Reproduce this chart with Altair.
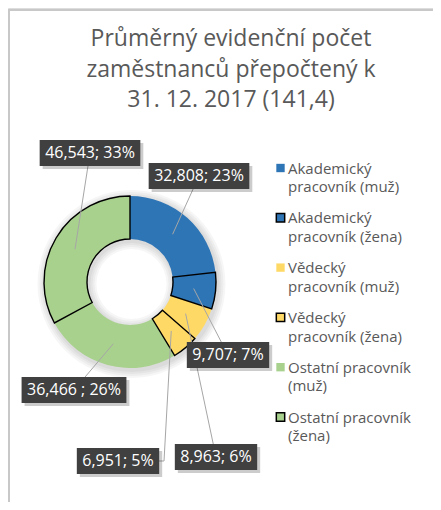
import math
import altair as alt
import pandas as pd

# ---------------- data ----------------
categories = [
    "Akademický pracovník (muž)",
    "Akademický pracovník (žena)",
    "Vědecký pracovník (muž)",
    "Vědecký pracovník (žena)",
    "Ostatní pracovník (muž)",
    "Ostatní pracovník (žena)",
]
values = [32.808, 9.707, 8.963, 6.951, 36.466, 46.543]
value_labels = ["32,808; 23%", "9,707; 7%", "8,963; 6%", "6,951; 5%", "36,466 ; 26%", "46,543; 33%"]
title_lines = ["Průměrný evidenční počet", "zaměstnanců přepočtený k", "31. 12. 2017 (141,4)"]

# ---------------- styles ----------------
colors = ["#2E75B6", "#2E75B6", "#FFD966", "#FFD966", "#A9D18E", "#A9D18E"]
TEXT_GREY = "#595959"
FONT = "Open Sans"

# ---------------- layout (px) ----------------
W, H = 425, 494
CX, CY = 122.0, 274.0          # donut centre inside the plot
R_OUT, R_IN = 86.0, 43.0
R_ANCHOR = 64.0                # where leader lines start
# manually dragged data labels (offset of label centre from donut centre, px, y down)
label_offsets = [(69, -106), (98, 73), (86, 175), (-12, 179), (-56, 108), (-40, -129)]
# leader-line elbows (None = straight line)
leader_elbows = [None, None, None, (34, 179), None, None]
BOX_H = 26.0
LEG_SYM_DX, LEG_TXT_DX = 150.5, 158.0
LEG_Y0, LEG_STEP = -114.0, 49.8
LEG_WRAP_PX = 125.0

# approximate Open Sans advance widths (em)
EM = {"A": .633, "O": .779, "V": .6, "a": .556, "c": .479, "d": .613, "e": .561, "i": .258, "í": .258,
      "k": .524, "m": .929, "n": .613, "o": .601, "p": .613, "r": .408, "s": .479, "t": .352, "u": .613,
      "v": .5, "y": .5, "ý": .5, "ž": .469, "ě": .561, "(": .296, ")": .296, " ": .26,
      ",": .244, ";": .266, "%": .83}


def text_width(s, size):
    return sum(EM.get(ch, 0.572) for ch in s) * size


def wrap_px(s, max_px, size):
    lines, cur = [], ""
    for word in s.split(" "):
        cand = (cur + " " + word).strip()
        if cur and text_width(cand, size) > max_px:
            lines.append(cur)
            cur = word
        else:
            cur = cand
    lines.append(cur)
    return "\n".join(lines)


zena = [c for c in categories if "žena" in c]
df = pd.DataFrame({
    "kategorie": categories,
    "hodnota": values,
    "poradi": list(range(len(categories))),
    "popisek": value_labels,
    "legenda": [wrap_px(c, LEG_WRAP_PX, 15) for c in categories],
    "bw": [text_width(t, 16) + 11 for t in value_labels],
    "lx": [dx / R_OUT for dx, dy in label_offsets],
    "ly": [-dy / R_OUT for dx, dy in label_offsets],
    "elx": [e[0] / R_OUT if e else None for e in leader_elbows],
    "ely": [-e[1] / R_OUT if e else None for e in leader_elbows],
})

xs = alt.Scale(domain=[-CX / R_OUT, (W - CX) / R_OUT], nice=False, zero=False)
ys = alt.Scale(domain=[-(H - CY) / R_OUT, CY / R_OUT], nice=False, zero=False)


def X(f):
    return alt.X(f, type="quantitative", scale=xs, axis=None)


def Y(f):
    return alt.Y(f, type="quantitative", scale=ys, axis=None)


zena_pred = alt.FieldOneOfPredicate(field="kategorie", oneOf=zena)
color_enc = alt.Color("kategorie:N", scale=alt.Scale(domain=categories, range=colors), legend=None)

base = alt.Chart(df)
one = alt.Chart(pd.DataFrame({"f": [0]}))

# chart frame (top and left edge visible)
frame_top = one.mark_rule(color="#C8C8C8", strokeWidth=2).encode(
    x=alt.value(0), x2=alt.value(W), y=alt.value(2))
frame_left = one.mark_rule(color="#C8C8C8", strokeWidth=2).encode(
    x=alt.value(1), y=alt.value(2), y2=alt.value(H))

centre_x = alt.XDatum(0, type="quantitative", scale=xs, axis=None)
centre_y = alt.YDatum(0, type="quantitative", scale=ys, axis=None)

# soft shadow round the ring
glow = [
    one.mark_arc(theta=0, theta2=2 * math.pi, radius=R_OUT + 2 * k, radius2=max(R_IN - 2 * k, 0),
                 color="black", opacity=0.035).encode(
        x=alt.XDatum(1.5 / R_OUT, type="quantitative", scale=xs, axis=None),
        y=alt.YDatum(-2 / R_OUT, type="quantitative", scale=ys, axis=None))
    for k in range(1, 5)
]

donut = base.mark_arc(radius=R_OUT, radius2=R_IN).encode(
    theta=alt.Theta("hodnota:Q", stack=True), color=color_enc, order=alt.Order("poradi:Q"),
    x=centre_x, y=centre_y)

outlines = base.mark_arc(radius=R_OUT, radius2=R_IN, fillOpacity=0, stroke="black", strokeWidth=1.4).encode(
    theta=alt.Theta("hodnota:Q", stack=True), order=alt.Order("poradi:Q"), detail="kategorie:N",
    strokeOpacity=alt.condition(zena_pred, alt.value(1), alt.value(0)),
    x=centre_x, y=centre_y)

anchors = (
    base.transform_window(cum="sum(hodnota)", sort=[alt.SortField("poradi")])
    .transform_joinaggregate(total="sum(hodnota)")
    .transform_calculate(mid="2*PI*(datum.cum - datum.hodnota/2)/datum.total")
    .transform_calculate(ax=f"{R_ANCHOR / R_OUT}*sin(datum.mid)", ay=f"{R_ANCHOR / R_OUT}*cos(datum.mid)")
    .transform_calculate(ex="isValid(datum.elx) && isFinite(datum.elx) ? datum.elx : datum.ax",
                         ey="isValid(datum.ely) && isFinite(datum.ely) ? datum.ely : datum.ay")
)
leaders1 = anchors.mark_rule(color="#A6A6A6", strokeWidth=1).encode(
    x=X("ax"), y=Y("ay"), x2="ex:Q", y2="ey:Q")
leaders2 = anchors.mark_rule(color="#A6A6A6", strokeWidth=1).encode(
    x=X("ex"), y=Y("ey"), x2="lx:Q", y2="ly:Q")

boxes_base = base.transform_calculate(
    bx0=f"datum.lx - datum.bw/{2 * R_OUT}", bx1=f"datum.lx + datum.bw/{2 * R_OUT}",
    by0=f"datum.ly - {BOX_H / 2 / R_OUT}", by1=f"datum.ly + {BOX_H / 2 / R_OUT}")
box_shadow = boxes_base.transform_calculate(
    sx0=f"datum.bx0 + {3 / R_OUT}", sx1=f"datum.bx1 + {3 / R_OUT}",
    sy0=f"datum.by0 - {3 / R_OUT}", sy1=f"datum.by1 - {3 / R_OUT}",
).mark_rect(color="black", opacity=0.2).encode(x=X("sx0"), x2="sx1:Q", y=Y("sy0"), y2="sy1:Q")
boxes = boxes_base.mark_rect(color="#404040").encode(x=X("bx0"), x2="bx1:Q", y=Y("by0"), y2="by1:Q")
box_text = base.mark_text(color="white", fontSize=16, font=FONT, align="center", baseline="middle").encode(
    x=X("lx"), y=Y("ly"), text="popisek:N")

leg = base.transform_calculate(
    sx=f"{LEG_SYM_DX / R_OUT}", tx=f"{LEG_TXT_DX / R_OUT}",
    sy=f"-({LEG_Y0} + datum.poradi*{LEG_STEP})/{R_OUT}")
leg_sym = leg.mark_square(size=70, opacity=1, stroke="black", strokeWidth=1.5).encode(
    x=X("sx"), y=Y("sy"), color=color_enc,
    strokeOpacity=alt.condition(zena_pred, alt.value(1), alt.value(0)))
leg_txt = leg.mark_text(align="left", baseline="alphabetic", dy=5.5, lineBreak="\n", fontSize=15,
                        lineHeight=18.7, color=TEXT_GREY, font=FONT).encode(
    x=X("tx"), y=Y("sy"), text="legenda:N")

chart = alt.layer(
    frame_top, frame_left, *glow, donut, outlines, leaders1, leaders2, box_shadow, boxes, box_text,
    leg_sym, leg_txt
).properties(
    width=W, height=H, padding=0,
    autosize=alt.AutoSizeParams(type="none"),
    title=alt.TitleParams(text=title_lines, fontSize=23, font=FONT, fontWeight="normal", color=TEXT_GREY,
                          anchor="middle", dx=10.5, offset=-122, baseline="alphabetic", lineHeight=30.5),
).configure_view(stroke=None).configure(background="white")

chart.save("out.html", embed_options={"renderer": "svg", "actions": False})
